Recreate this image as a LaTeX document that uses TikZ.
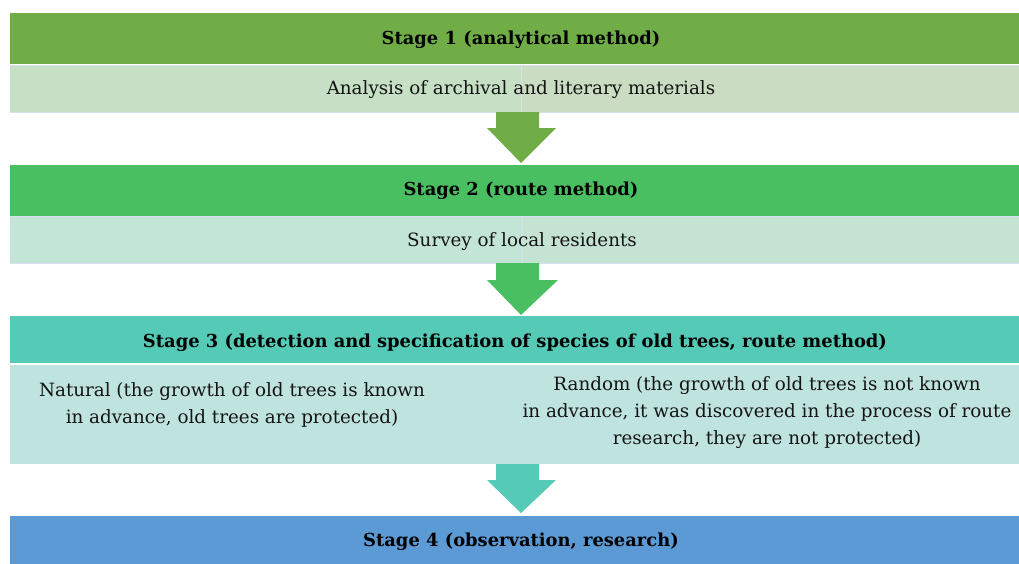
\documentclass[tikz,border=0pt]{standalone}
\usepackage{fontspec}
\setmainfont{DejaVu Serif}
\usetikzlibrary{calc}
\definecolor{hA}{HTML}{70AD47}
\definecolor{hB}{HTML}{4ABF62}
\definecolor{hC}{HTML}{54CAB7}
\definecolor{hD}{HTML}{5B9AD5}
\definecolor{sAl}{HTML}{C5E0C4}
\definecolor{sAr}{HTML}{CADDC2}
\definecolor{sBl}{HTML}{C3E5D8}
\definecolor{sBr}{HTML}{C5E3D2}
\definecolor{sC}{HTML}{BFE4DF}
\definecolor{edge}{HTML}{D6E0EE}
\tikzset{
  bar/.style={draw=none, inner sep=0pt, outer sep=0pt, anchor=north west, minimum width=1009pt},
  subline/.style={draw=edge, line width=0.8pt},
  htext/.style={font=\fontsize{17.9}{20}\selectfont\bfseries, inner sep=0pt, text=black},
  ntext/.style={font=\fontsize{18.3}{27}\selectfont, inner sep=0pt, text=black!92, align=center}
}
\begin{document}
\begin{tikzpicture}[x=1pt,y=-1pt]
\useasboundingbox (0,0) rectangle (1019,563);
% stage 1
\node[bar, fill=hA, minimum height=51pt] (h1) at (10,13) {};
\node[bar, fill=sAl, minimum width=511pt, minimum height=47pt] (s1l) at (10,65) {};
\node[bar, fill=sAr, minimum width=498pt, minimum height=47pt] (s1r) at (521,65) {};
\draw[subline] (s1l.north west) -- (s1r.north east);
\draw[subline] (s1l.south west) -- (s1r.south east);
\draw[subline] (s1l.north east) -- (s1l.south east);
\node[htext] (t1) at (521,39.5) {Stage 1 (analytical method)};
\node[ntext] (u1) at (521,89.5) {Analysis of archival and literary materials};
% stage 2
\node[bar, fill=hB, minimum height=51pt] (h2) at (10,165) {};
\node[bar, fill=sBl, minimum width=512pt, minimum height=47pt] (s2l) at (10,216) {};
\node[bar, fill=sBr, minimum width=497pt, minimum height=47pt] (s2r) at (522,216) {};
\draw[subline] (s2l.north west) -- (s2r.north east);
\draw[subline] (s2l.south west) -- (s2r.south east);
\draw[subline] (s2l.north east) -- (s2l.south east);
\node[htext] (t2) at (521,191) {Stage 2 (route method)};
\node[ntext] (u2) at (522,241.5) {Survey of local residents};
% stage 3
\node[bar, fill=hC, minimum height=47pt] (h3) at (10,316) {};
\node[bar, fill=sC, minimum height=100pt] (s3) at (10,364) {};
\draw[draw=white, line width=0.8pt] (s3.north west) -- (s3.north east);
\node[htext] (t3) at (515,343) {Stage 3 (detection and specification of species of old trees, route method)};
\node[ntext] (u3a) at (232,405) {Natural (the growth of old trees is known\\in advance, old trees are protected)};
\node[ntext] (u3b) at (767,413) {Random (the growth of old trees is not known\\in advance, it was discovered in the process of route\\research, they are not protected)};
% stage 4
\node[bar, fill=hD, minimum height=48pt] (h4) at (10,516) {};
\node[htext] (t4) at (521,542) {Stage 4 (observation, research)};
% block arrows
\fill[hA] ($(s1l.south east)+(-25,0)$) coordinate (a1) -- ++(43,0) -- ++(0,16) -- ++(17,0)
  -- ($(h2.north west)+(511,-2)$) -- ($(a1)+(-9,16)$) -- ($(a1)+(0,16)$) -- cycle;
\fill[hB] ($(s2l.south west)+(486,0)$) coordinate (a2) -- ++(43,0) -- ++(0,17) -- ++(19,0)
  -- ($(h3.north west)+(511,-1)$) -- ($(a2)+(-9,17)$) -- ($(a2)+(0,17)$) -- cycle;
\fill[hC] ($(s3.south west)+(486,0)$) coordinate (a3) -- ++(43,0) -- ++(0,16) -- ++(17,0)
  -- ($(h4.north west)+(511,-3)$) -- ($(a3)+(-9,16)$) -- ($(a3)+(0,16)$) -- cycle;
\end{tikzpicture}
\end{document}
